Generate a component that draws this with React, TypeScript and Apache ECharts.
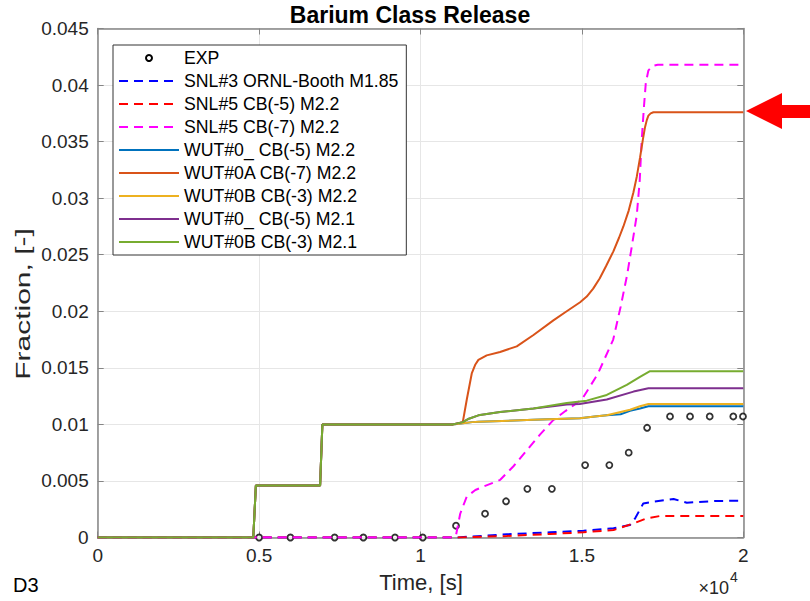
import React, { useEffect, useRef } from 'react';
import * as echarts from 'echarts';

const FONT = 'Liberation Sans, Arial, Helvetica, sans-serif';

const seriesNames = [
  'EXP',
  'SNL#3 ORNL-Booth M1.85',
  'SNL#5 CB(-5) M2.2',
  'SNL#5 CB(-7) M2.2',
  'WUT#0_ CB(-5) M2.2',
  'WUT#0A CB(-7) M2.2',
  'WUT#0B CB(-3) M2.2',
  'WUT#0_ CB(-5) M2.1',
  'WUT#0B CB(-3) M2.1',
];

// Experimental points
const expTime = [5000, 5970, 7340, 8230, 9210, 10070, 11100, 12000, 12650, 13310, 14070, 15100, 15850, 16450, 17020, 17730, 18350, 18960, 19690, 19990];
const expFrac = [0, 0, 0, 0, 0, 0, 0.00104, 0.0021, 0.0032, 0.0043, 0.0043, 0.0064, 0.0064, 0.0075, 0.0097, 0.0107, 0.0107, 0.0107, 0.0107, 0.0107];

// SNL#3 ORNL-Booth M1.85
const snl3Time = [0, 11100, 12670, 14010, 15050, 15980, 16490, 16650, 16900, 17220, 17840, 18250, 19180, 20000];
const snl3Frac = [0, 0, 0.00028, 0.00046, 0.0006, 0.00081, 0.0011, 0.0017, 0.003, 0.00317, 0.0034, 0.00308, 0.00323, 0.00325];

// SNL#5 CB(-5) M2.2
const snl5aTime = [0, 11100, 12670, 14010, 15050, 15980, 16600, 17010, 17420, 20000];
const snl5aFrac = [0, 0, 0.00013, 0.00031, 0.00046, 0.00066, 0.00125, 0.0017, 0.0019, 0.0019];

// SNL#5 CB(-7) M2.2
const snl5bTime = [0, 11000, 11100, 11230, 11430, 11700, 11950, 12470, 12880, 13290, 13700, 14120, 14500, 15000, 15500, 15970, 16200, 16400, 16550, 16700, 16790, 16850, 16920, 16980, 17060, 17200, 17350, 20000];
const snl5bFrac = [0, 0, 0.0002, 0.0021, 0.0036, 0.0042, 0.0045, 0.0051, 0.0063, 0.0077, 0.0091, 0.0104, 0.0112, 0.0122, 0.0145, 0.0175, 0.0204, 0.0232, 0.0258, 0.0285, 0.0315, 0.035, 0.038, 0.0402, 0.0413, 0.0417, 0.0418, 0.0418];

// Shared early history of the WUT cases
const wutStartTime = [0, 4820, 4900, 6890, 6960, 11000];
const wutStartFrac = [0, 0, 0.0046, 0.0046, 0.01, 0.01];

// WUT#0_ CB(-5) M2.2
const wut0m22Time = [11310, 11600, 11800, 13500, 14940, 15400, 15770, 16200, 16490, 16800, 17060, 20000];
const wut0m22Frac = [0.0101, 0.0102, 0.01024, 0.0104, 0.01054, 0.0107, 0.0108, 0.0109, 0.0112, 0.0114, 0.0116, 0.0116];

// WUT#0A CB(-7) M2.2
const wut0aTime = [11310, 11434, 11588, 11700, 11793, 12051, 12465, 12982, 13500, 14116, 14530, 14944, 15150, 15350, 15550, 15750, 15975, 16150, 16285, 16450, 16595, 16700, 16802, 16890, 16957, 17010, 17060, 17130, 17215, 20000];
const wut0aFrac = [0.0102, 0.0122, 0.0145, 0.0153, 0.0157, 0.0161, 0.0164, 0.0169, 0.0179, 0.0192, 0.02, 0.0208, 0.0213, 0.022, 0.0229, 0.024, 0.0253, 0.0265, 0.0275, 0.0289, 0.0305, 0.0319, 0.0336, 0.0352, 0.0363, 0.0369, 0.0373, 0.0375, 0.0376, 0.0376];

// WUT#0B CB(-3) M2.2
const wut0bm22Time = [11310, 11600, 11800, 13500, 14940, 15400, 15770, 16200, 16490, 16800, 17060, 20000];
const wut0bm22Frac = [0.0101, 0.0102, 0.01024, 0.0104, 0.01054, 0.0107, 0.0108, 0.0111, 0.0113, 0.0116, 0.0118, 0.0118];

// WUT#0_ CB(-5) M2.1
const wut0m21Time = [11310, 11500, 11793, 12465, 13500, 14100, 14530, 14930, 15770, 16600, 17060, 20000];
const wut0m21Frac = [0.0102, 0.0105, 0.0108, 0.0111, 0.0114, 0.0116, 0.01175, 0.0118, 0.0122, 0.0129, 0.0132, 0.0132];

// WUT#0B CB(-3) M2.1
const wut0bm21Time = [11310, 11500, 11793, 12465, 13500, 14530, 15150, 15770, 16390, 16800, 17110, 20000];
const wut0bm21Frac = [0.0102, 0.0105, 0.0108, 0.0111, 0.0114, 0.0119, 0.0121, 0.0126, 0.0135, 0.0142, 0.0147, 0.0147];

const xTickValues = [0, 5000, 10000, 15000, 20000];

const zip = (t: number[], y: number[]) => t.map((v, i) => [v, y[i]]);
const withStart = (t: number[], y: number[]) => zip(wutStartTime.concat(t), wutStartFrac.concat(y));

const axisColor = '#858585';
const gridColor = '#e6e6e6';
const labelColor = '#262626';

function lineSeries(name: string, data: number[][], color: string, dashed: boolean) {
  return {
    name,
    type: 'line',
    data,
    symbol: 'none',
    showSymbol: false,
    xAxisIndex: 0,
    yAxisIndex: 0,
    lineStyle: { color, width: 2, type: dashed ? [9, 6] : 'solid' },
    itemStyle: { color },
    emphasis: { disabled: true },
  };
}

export default function App() {
  const ref = useRef<HTMLDivElement>(null);
  useEffect(() => {
    const chart = echarts.init(ref.current as HTMLDivElement, null, { renderer: 'svg' });
    const xBase = {
      type: 'value',
      min: 0,
      max: 20000,
      interval: 5000,
      axisLine: { show: true, onZero: false, lineStyle: { color: axisColor, width: 1.5 } },
      axisTick: { show: true, inside: true, length: 6, lineStyle: { color: axisColor, width: 1 } },
    };
    const yBase = {
      type: 'value',
      min: 0,
      max: 0.045,
      interval: 0.005,
      axisLine: { show: true, onZero: false, lineStyle: { color: axisColor, width: 1.5 } },
      axisTick: { show: true, inside: true, length: 6, lineStyle: { color: axisColor, width: 1 } },
    };
    const option: any = {
      animation: false,
      backgroundColor: '#ffffff',
      textStyle: { fontFamily: FONT },
      grid: { left: 97.7, right: 66.7, top: 28.5, bottom: 63.5, containLabel: false },
      xAxis: [
        {
          ...xBase,
          position: 'bottom',
          axisLabel: {
            fontSize: 19,
            color: labelColor,
            fontFamily: FONT,
            margin: 8,
            formatter: (v: number) => (xTickValues.includes(v) ? String(v / 10000) : ''),
          },
          splitLine: { show: true, lineStyle: { color: gridColor, width: 1 } },
        },
        { ...xBase, position: 'top', axisLabel: { show: false }, splitLine: { show: false } },
      ],
      yAxis: [
        {
          ...yBase,
          position: 'left',
          axisLabel: {
            fontSize: 19,
            color: labelColor,
            fontFamily: FONT,
            margin: 9,
            formatter: (v: number) => String(Number(v.toFixed(3))),
          },
          splitLine: { show: true, lineStyle: { color: gridColor, width: 1 } },
        },
        { ...yBase, position: 'right', axisLabel: { show: false }, splitLine: { show: false } },
      ],
      legend: {
        orient: 'vertical',
        left: 113,
        top: 45,
        itemWidth: 60,
        itemHeight: 6,
        itemGap: 5,
        padding: [4, 8, 4, 5],
        borderColor: '#333333',
        borderWidth: 1,
        backgroundColor: '#ffffff',
        selectedMode: false,
        itemStyle: { opacity: 0 },
        textStyle: { fontSize: 17.7, color: '#000000', fontFamily: FONT, width: 215 },
        data: seriesNames.map((n, i) => (i === 0 ? { name: n, itemStyle: { opacity: 1 } } : { name: n })),
      },
      series: [
        {
          name: seriesNames[0],
          type: 'scatter',
          data: zip(expTime, expFrac),
          symbol: 'circle',
          symbolSize: 6,
          xAxisIndex: 0,
          yAxisIndex: 0,
          itemStyle: { color: '#ffffff', borderColor: '#000000', borderWidth: 1.8 },
          emphasis: { disabled: true },
          z: 2,
        },
        lineSeries(seriesNames[1], zip(snl3Time, snl3Frac), '#0000ff', true),
        lineSeries(seriesNames[2], zip(snl5aTime, snl5aFrac), '#ff0000', true),
        lineSeries(seriesNames[3], zip(snl5bTime, snl5bFrac), '#ff00ff', true),
        lineSeries(seriesNames[4], withStart(wut0m22Time, wut0m22Frac), '#0072bd', false),
        lineSeries(seriesNames[5], withStart(wut0aTime, wut0aFrac), '#d95319', false),
        lineSeries(seriesNames[6], withStart(wut0bm22Time, wut0bm22Frac), '#edb120', false),
        lineSeries(seriesNames[7], withStart(wut0m21Time, wut0m21Frac), '#7e2f8e', false),
        lineSeries(seriesNames[8], withStart(wut0bm21Time, wut0bm21Frac), '#77ac30', false),
      ],
      graphic: [
        {
          type: 'text',
          x: 410,
          y: 15,
          style: {
            text: 'Barium Class Release',
            fontSize: 23,
            fontWeight: 'bold',
            fontFamily: FONT,
            fill: '#000000',
            align: 'center',
            verticalAlign: 'middle',
          },
        },
        {
          type: 'text',
          x: 421,
          y: 582,
          style: {
            text: 'Time, [s]',
            fontSize: 22,
            fontFamily: FONT,
            fill: labelColor,
            align: 'center',
            verticalAlign: 'middle',
          },
        },
        {
          type: 'text',
          x: 23,
          y: 304,
          rotation: Math.PI / 2,
          scaleX: 1.5,
          style: {
            text: 'Fraction, [-]',
            fontSize: 20,
            fontFamily: FONT,
            fill: labelColor,
            align: 'center',
            verticalAlign: 'middle',
          },
        },
        {
          type: 'text',
          x: 13,
          y: 585,
          style: {
            text: 'D3',
            fontSize: 20,
            fontFamily: FONT,
            fill: '#000000',
            align: 'left',
            verticalAlign: 'middle',
          },
        },
        {
          type: 'text',
          x: 729,
          y: 588,
          style: {
            text: '×10',
            fontSize: 18,
            fontFamily: FONT,
            fill: labelColor,
            align: 'right',
            verticalAlign: 'middle',
          },
        },
        {
          type: 'text',
          x: 730,
          y: 577,
          style: {
            text: '4',
            fontSize: 14,
            fontFamily: FONT,
            fill: labelColor,
            align: 'left',
            verticalAlign: 'middle',
          },
        },
        {
          type: 'polygon',
          shape: {
            points: [
              [746, 111],
              [782, 93],
              [782, 105],
              [810, 105],
              [810, 118],
              [782, 118],
              [782, 129],
            ],
          },
          style: { fill: '#ff0000' },
          z: 100,
        },
      ],
    };
    chart.setOption(option);
    return () => chart.dispose();
  }, []);
  return (
    <div
      ref={ref}
      style={{ position: 'fixed', left: 0, top: 0, width: 810, height: 601, background: '#ffffff' }}
    />
  );
}
